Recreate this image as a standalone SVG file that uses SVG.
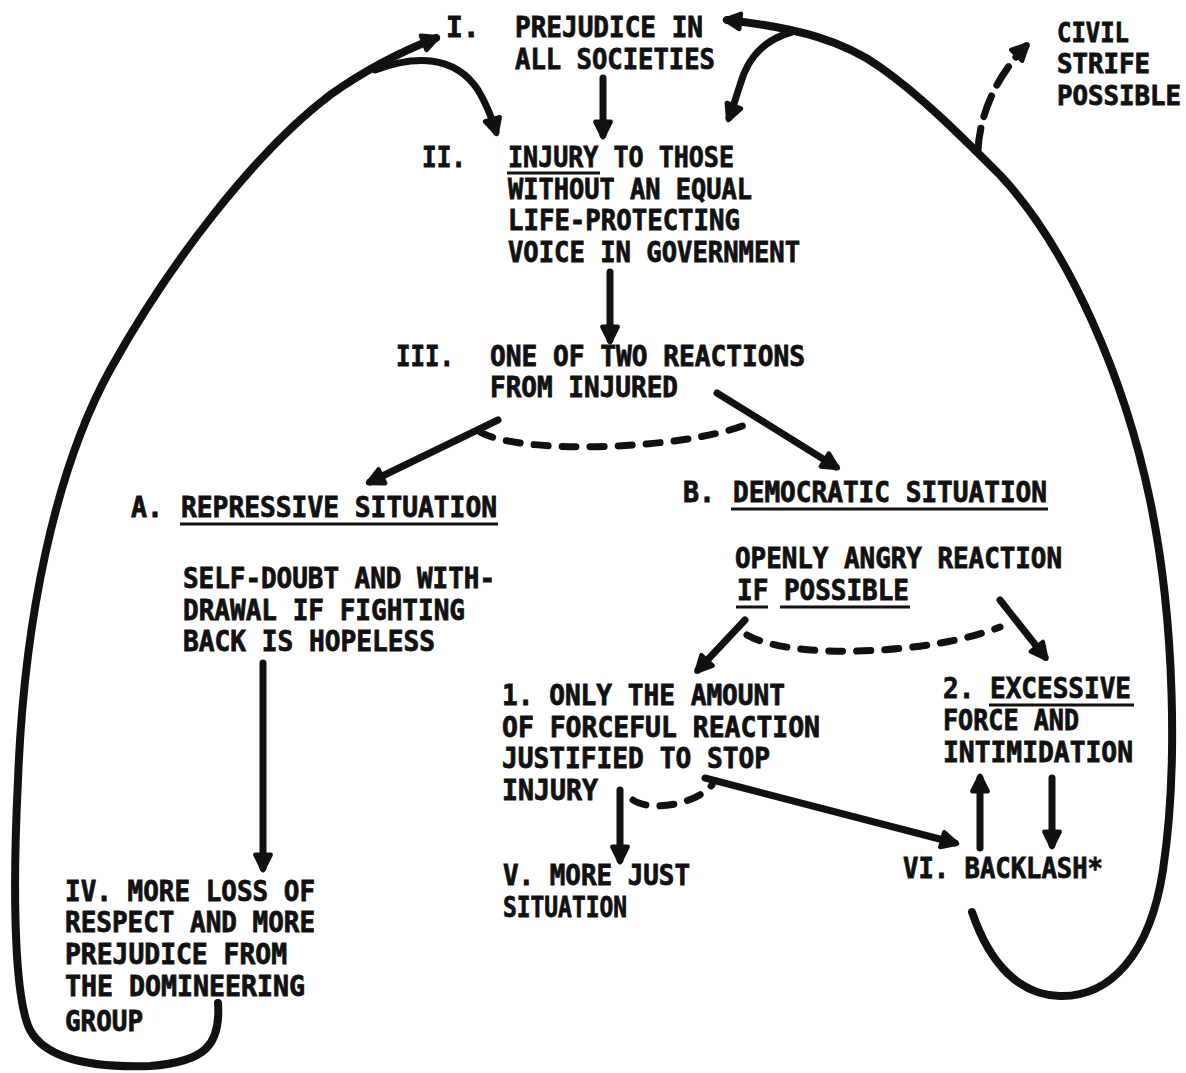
<svg xmlns="http://www.w3.org/2000/svg" width="1186" height="1073" viewBox="0 0 1186 1073">
<style>
text{font-family:"DejaVu Sans Mono","Liberation Mono",monospace;font-weight:bold;font-size:28px;fill:#111;stroke:#111;stroke-width:0.8}
.sm{font-size:26px}
.ln{fill:none;stroke:#111;stroke-width:7;stroke-linecap:round;stroke-linejoin:round}
.th{stroke-width:8}
.ds{fill:none;stroke:#111;stroke-width:7;stroke-linecap:round;stroke-dasharray:14,14}
.ul{stroke:#111;stroke-width:3}
</style>
<defs>
<marker id="ah" viewBox="0 0 20 20" refX="15" refY="10" markerWidth="22" markerHeight="22" markerUnits="userSpaceOnUse" orient="auto">
<path d="M3,3 L17,10 L3,17 Z" fill="#111" stroke="#111" stroke-width="4" stroke-linejoin="round"/>
</marker>
</defs>
<rect width="1186" height="1073" fill="#fff"/>
<g id="connectors">
<path class="ln th" d="M218,1003 C221,1045 205,1062 150,1066 C90,1068 45,1058 30,1030 C15,1000 12,900 18,780 C24,620 55,470 110,370 C170,262 255,152 330,95 C365,70 400,52 436,38" marker-end="url(#ah)"/>
<path class="ln" d="M375,70 C415,55 455,55 478,90 C487,105 492,118 496,132" marker-end="url(#ah)"/>
<path class="ln th" d="M972,912 C990,965 1020,995 1060,996 C1110,997 1150,955 1163,870 C1178,770 1175,620 1150,500 C1125,380 1070,250 1000,175 C960,135 920,95 880,67 C845,42 800,28 727,20" marker-end="url(#ah)"/>
<path class="ln" d="M792,32 C762,40 747,60 740,85 C736,97 733,108 729,118" marker-end="url(#ah)"/>
<path class="ds" style="stroke-dasharray:22,12" d="M978,150 C980,110 1000,72 1026,46" marker-end="url(#ah)"/>
<path class="ln" d="M603,78 L603,135" marker-end="url(#ah)"/>
<path class="ln" d="M610,272 L610,340" marker-end="url(#ah)"/>
<path class="ln" d="M498,420 L370,482" marker-end="url(#ah)"/>
<path class="ln" d="M717,393 L836,467" marker-end="url(#ah)"/>
<path class="ds" d="M480,432 C520,455 680,450 745,425"/>
<path class="ln" d="M263,663 L263,868" marker-end="url(#ah)"/>
<path class="ln" d="M745,620 L698,670" marker-end="url(#ah)"/>
<path class="ln" d="M1000,600 L1045,657" marker-end="url(#ah)"/>
<path class="ds" d="M747,635 C790,660 930,655 1000,627"/>
<path class="ln" d="M620,790 L620,860" marker-end="url(#ah)"/>
<path class="ds" d="M633,800 C650,812 695,805 712,785"/>
<path class="ln" d="M705,778 L955,843" marker-end="url(#ah)"/>
<path class="ln" d="M980,848 L980,778" marker-end="url(#ah)"/>
<path class="ln" d="M1052,778 L1052,845" marker-end="url(#ah)"/>
</g>
<g id="node-I">
<text x="446" y="37">I.</text>
<text x="515" y="37" textLength="188" lengthAdjust="spacingAndGlyphs">PREJUDICE IN</text>
<text x="515" y="69" textLength="200" lengthAdjust="spacingAndGlyphs">ALL SOCIETIES</text>
</g>
<g id="node-II">
<text x="422" y="167" textLength="44" lengthAdjust="spacingAndGlyphs">II.</text>
<text x="508" y="167" textLength="226" lengthAdjust="spacingAndGlyphs">INJURY TO THOSE</text>
<line class="ul" x1="507" y1="173" x2="600" y2="173"/>
<text x="508" y="199" textLength="244" lengthAdjust="spacingAndGlyphs">WITHOUT AN EQUAL</text>
<text x="508" y="230" textLength="232" lengthAdjust="spacingAndGlyphs">LIFE-PROTECTING</text>
<text x="508" y="262" textLength="292" lengthAdjust="spacingAndGlyphs">VOICE IN GOVERNMENT</text>
</g>
<g id="node-III">
<text x="396" y="366" textLength="58" lengthAdjust="spacingAndGlyphs">III.</text>
<text x="490" y="366" textLength="315" lengthAdjust="spacingAndGlyphs">ONE OF TWO REACTIONS</text>
<text x="490" y="397" textLength="188" lengthAdjust="spacingAndGlyphs">FROM INJURED</text>
</g>
<g id="node-A">
<text x="131" y="517" textLength="32" lengthAdjust="spacingAndGlyphs">A.</text>
<text x="181" y="517" textLength="316" lengthAdjust="spacingAndGlyphs">REPRESSIVE SITUATION</text>
<line class="ul" x1="180" y1="524" x2="498" y2="524"/>
<text x="183" y="588" textLength="312" lengthAdjust="spacingAndGlyphs">SELF-DOUBT AND WITH-</text>
<text x="183" y="620" textLength="282" lengthAdjust="spacingAndGlyphs">DRAWAL IF FIGHTING</text>
<text x="183" y="651" textLength="252" lengthAdjust="spacingAndGlyphs">BACK IS HOPELESS</text>
</g>
<g id="node-B">
<text x="683" y="502" textLength="32" lengthAdjust="spacingAndGlyphs">B.</text>
<text x="733" y="502" textLength="314" lengthAdjust="spacingAndGlyphs">DEMOCRATIC SITUATION</text>
<line class="ul" x1="731" y1="509" x2="1048" y2="509"/>
<text x="735" y="568" textLength="327" lengthAdjust="spacingAndGlyphs">OPENLY ANGRY REACTION</text>
<text x="737" y="600" textLength="172" lengthAdjust="spacingAndGlyphs">IF POSSIBLE</text>
<line class="ul" x1="736" y1="607" x2="768" y2="607"/>
<line class="ul" x1="780" y1="607" x2="910" y2="607"/>
</g>
<g id="node-1">
<text x="502" y="705" textLength="283" lengthAdjust="spacingAndGlyphs">1. ONLY THE AMOUNT</text>
<text x="502" y="737" textLength="318" lengthAdjust="spacingAndGlyphs">OF FORCEFUL REACTION</text>
<text x="502" y="768" textLength="268" lengthAdjust="spacingAndGlyphs">JUSTIFIED TO STOP</text>
<text x="502" y="800" textLength="96" lengthAdjust="spacingAndGlyphs">INJURY</text>
</g>
<g id="node-2">
<text x="943" y="698" textLength="188" lengthAdjust="spacingAndGlyphs">2. EXCESSIVE</text>
<line class="ul" x1="989" y1="705" x2="1134" y2="705"/>
<text x="943" y="730" textLength="136" lengthAdjust="spacingAndGlyphs">FORCE AND</text>
<text x="943" y="762" textLength="190" lengthAdjust="spacingAndGlyphs">INTIMIDATION</text>
</g>
<g id="node-IV">
<text x="65" y="901" textLength="250" lengthAdjust="spacingAndGlyphs">IV. MORE LOSS OF</text>
<text x="65" y="932" textLength="250" lengthAdjust="spacingAndGlyphs">RESPECT AND MORE</text>
<text x="65" y="964" textLength="222" lengthAdjust="spacingAndGlyphs">PREJUDICE FROM</text>
<text x="65" y="996" textLength="240" lengthAdjust="spacingAndGlyphs">THE DOMINEERING</text>
<text x="65" y="1031" textLength="78" lengthAdjust="spacingAndGlyphs">GROUP</text>
</g>
<g id="node-V">
<text x="503" y="885" textLength="187" lengthAdjust="spacingAndGlyphs">V. MORE JUST</text>
<text x="503" y="917" textLength="124" lengthAdjust="spacingAndGlyphs">SITUATION</text>
</g>
<g id="node-VI">
<text x="903" y="878" textLength="200" lengthAdjust="spacingAndGlyphs">VI. BACKLASH*</text>
</g>
<g id="node-civil">
<text class="sm" x="1057" y="42" textLength="72" lengthAdjust="spacingAndGlyphs">CIVIL</text>
<text class="sm" x="1057" y="73" textLength="93" lengthAdjust="spacingAndGlyphs">STRIFE</text>
<text class="sm" x="1057" y="105" textLength="124" lengthAdjust="spacingAndGlyphs">POSSIBLE</text>
</g>
</svg>
